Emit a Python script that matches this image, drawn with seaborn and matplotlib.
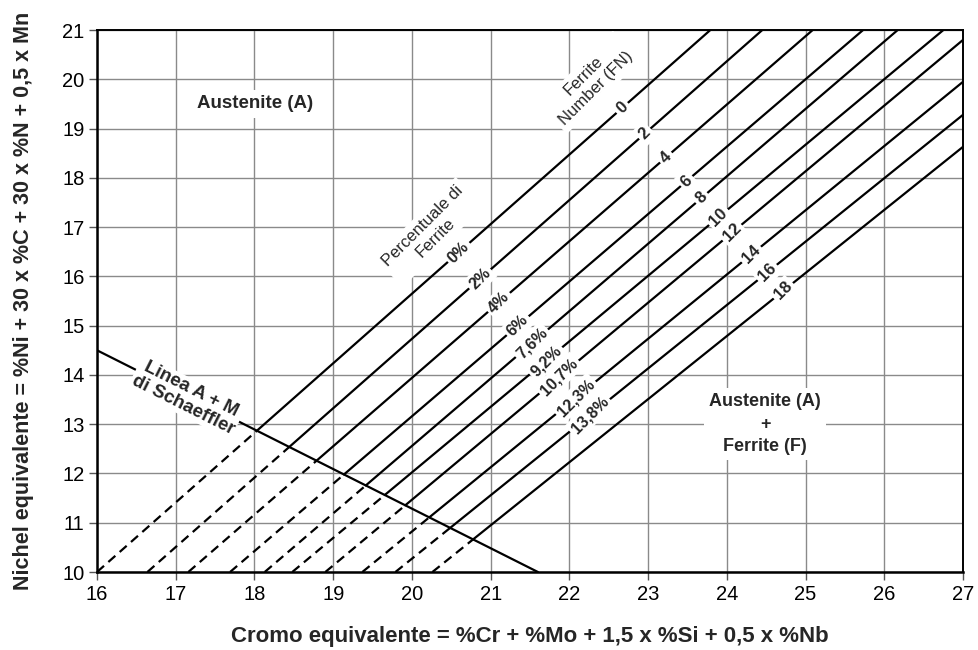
import numpy as np
import pandas as pd
import matplotlib
matplotlib.use("Agg")
import matplotlib.pyplot as plt
import seaborn as sns

# Iso-ferrite lines: Cr_eq where each line leaves Ni_eq = 10, and its upper end point
fn_labels = ["0", "2", "4", "6", "8", "10", "12", "14", "16", "18"]
pct_labels = ["0%", "2%", "4%", "6%", "7,6%", "9,2%", "10,7%", "12,3%", "13,8%"]
cr_low = [16.0, 16.64, 17.16, 17.69, 18.13, 18.48, 18.90, 19.37, 19.79, 20.26]
ni_low = [10.0, 10.0, 10.0, 10.0, 10.0, 10.0, 10.0, 10.0, 10.0, 10.0]
cr_high = [23.79, 24.45, 25.09, 25.73, 26.17, 26.75, 27.0, 27.0, 27.0, 27.0]
ni_high = [21.0, 21.0, 21.0, 21.0, 21.0, 21.0, 20.80, 19.95, 19.28, 18.63]

# Schaeffler A + M boundary
schaeffler_cr = [16.0, 21.6]
schaeffler_ni = [14.5, 10.0]

x_ticks = list(range(16, 28))
y_ticks = list(range(10, 22))

sns.set_theme(style="ticks")
plt.rcParams["font.family"] = ["Liberation Sans", "DejaVu Sans"]


def intersect(p1, p2, q1, q2):
    p1, p2, q1, q2 = map(np.asarray, (p1, p2, q1, q2))
    d1, d2 = p2 - p1, q2 - q1
    m = np.array([d1, -d2]).T
    t, _ = np.linalg.solve(m, q1 - p1)
    return p1 + t * d1


fig = plt.figure(figsize=(9.79, 6.5), dpi=100)
ax = fig.add_axes([0.0991, 0.12, 0.8846, 0.8338])
ax.set_xlim(16, 27)
ax.set_ylim(10, 21)
ax.set_xticks(x_ticks)
ax.set_yticks(y_ticks)
ax.grid(True, color="#8a8a8a", linewidth=1.0)
ax.set_axisbelow(True)

lw = 1.6
s1 = (schaeffler_cr[0], schaeffler_ni[0])
s2 = (schaeffler_cr[1], schaeffler_ni[1])
for xl, yl, xh, yh in zip(cr_low, ni_low, cr_high, ni_high):
    cx, cy = intersect((xl, yl), (xh, yh), s1, s2)
    sns.lineplot(x=[xl, cx], y=[yl, cy], ax=ax, color="black", linewidth=lw,
                 linestyle=(0, (4.2, 2.6)), sort=False, estimator=None)
    sns.lineplot(x=[cx, xh], y=[cy, yh], ax=ax, color="black", linewidth=lw,
                 sort=False, estimator=None)

sns.lineplot(x=schaeffler_cr, y=schaeffler_ni, ax=ax, color="black",
             linewidth=lw, sort=False, estimator=None)

box = dict(boxstyle="square,pad=0.18", fc="white", ec="none")

# Ferrite Number labels along a diagonal guide
fn_guide = ((22.67, 19.42), (24.70, 15.74))
for lab, xl, yl, xh, yh in zip(fn_labels, cr_low, ni_low, cr_high, ni_high):
    px, py = intersect((xl, yl), (xh, yh), *fn_guide)
    ax.text(px, py, lab, rotation=45, ha="center", va="center",
            fontsize=12, fontweight="bold", bbox=box, zorder=5)

# Ferrite percentage labels
pct_guide = ((20.57, 16.535), (22.26, 13.18))
for lab, xl, yl, xh, yh in zip(pct_labels, cr_low, ni_low, cr_high, ni_high):
    px, py = intersect((xl, yl), (xh, yh), *pct_guide)
    ax.text(px, py, lab, rotation=45, ha="center", va="center",
            fontsize=11.5, fontweight="bold", bbox=box, zorder=5)

ax.text(22.26, 19.94, "Ferrite\nNumber (FN)", rotation=45, ha="center",
        va="center", multialignment="center", fontsize=12, linespacing=1.2,
        bbox=dict(boxstyle="square,pad=0.25", fc="white", ec="none"), zorder=5)
ax.text(20.22, 16.90, "Percentuale di\nFerrite", rotation=45, ha="center",
        va="center", multialignment="center", fontsize=12, linespacing=1.2,
        bbox=dict(boxstyle="square,pad=0.25", fc="white", ec="none"), zorder=5)

# Schaeffler line caption, aligned with the line on screen
fig.canvas.draw()
a = ax.transData.transform(s1)
b = ax.transData.transform(s2)
ang = np.degrees(np.arctan2(b[1] - a[1], b[0] - a[0]))
ax.text(17.14, 13.55, "Linea A + M\ndi Schaeffler", rotation=ang, ha="center",
        va="center", multialignment="center", fontsize=13.5, fontweight="bold",
        linespacing=1.05, bbox=dict(boxstyle="square,pad=0.08", fc="white", ec="none"),
        zorder=5)

ax.text(18.01, 19.50, "Austenite (A)", ha="center", va="center", fontsize=13.5,
        fontweight="bold", bbox=dict(boxstyle="square,pad=0.3", fc="white", ec="none"),
        zorder=5)
ax.text(24.485, 13.0, "Austenite (A)\n+\nFerrite (F)", ha="center", va="center",
        multialignment="center", fontsize=13, fontweight="bold", linespacing=1.4,
        bbox=dict(boxstyle="square,pad=0.3", fc="white", ec="none"), zorder=5)

ax.set_xlabel("Cromo equivalente = %Cr + %Mo + 1,5 x %Si + 0,5 x %Nb",
              fontsize=16, fontweight="bold", labelpad=16)
ax.set_ylabel("Nichel equivalente = %Ni + 30 x %C + 30 x %N + 0,5 x Mn",
              fontsize=15.5, fontweight="bold", labelpad=20)
ax.tick_params(axis="both", direction="out", length=6, width=1, color="#555555",
               labelsize=14.5, labelcolor="black", pad=3)
for side in ["left", "bottom"]:
    ax.spines[side].set_linewidth(1.8)
for side in ["top", "right"]:
    ax.spines[side].set_linewidth(1.4)
for sp in ax.spines.values():
    sp.set_color("black")
    sp.set_visible(True)
    sp.set_zorder(6)

fig.savefig("out.png", dpi=100)
